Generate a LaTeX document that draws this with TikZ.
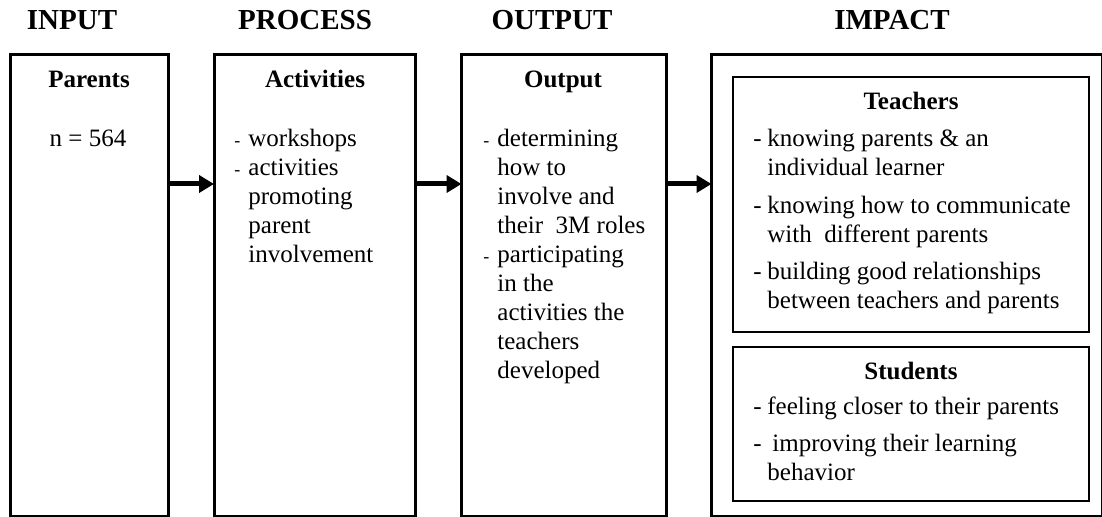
\documentclass[tikz,border=0pt]{standalone}
\usepackage{fontspec}
\setmainfont{Liberation Serif}
\usetikzlibrary{arrows.meta,positioning}
\newcommand{\bul}{\makebox[7pt][l]{-}}
\newcommand{\sbul}{\makebox[7pt][l]{\fontsize{9}{9}\selectfont-}}
\newcommand{\ind}{\hspace*{7pt}}

\begin{document}
\begin{tikzpicture}[x=0.5pt,y=-0.5pt,
    hdr/.style={anchor=base,font=\fontsize{14.5}{17}\selectfont\bfseries},
    stage/.style={draw,line width=1.5pt,minimum height=231pt,inner sep=0pt,outer sep=0pt},
    subbox/.style={draw,line width=0.9pt,minimum width=178pt,inner sep=0pt,outer sep=0pt},
    title/.style={anchor=base,font=\fontsize{12.5}{14.5}\selectfont\bfseries},
    txt/.style={anchor=base west,inner sep=0pt,font=\fontsize{12.5}{14.5}\selectfont},
    flow/.style={line width=2.5pt,-{Triangle[length=7.5pt,width=8.5pt]}}]
\useasboundingbox (0,0) rectangle (1102,517);

% column headings
\foreach \x/\name/\lbl in {72/hinput/INPUT,305/hprocess/PROCESS,552/houtput/OUTPUT,892/himpact/IMPACT}
  \node[hdr] (\name) at (\x,30) {\lbl};

% the four stages
\node[stage,minimum width=78.75pt] (input) at (89.25,286) {};
\node[stage,minimum width=100.5pt] (process) at (314.5,286) {};
\node[stage,minimum width=102.5pt] (output) at (564,286) {};
\node[stage,minimum width=195.25pt] (impact) at (906.75,286) {};

\foreach \a/\b in {input/process,process/output,output/impact}
  \draw[flow] ([yshift=51pt]\a.east) -- ([yshift=51pt]\b.west);

% input
\node[title] (parents) at (89,88) {Parents};
\node[title,font=\fontsize{12.5}{14.5}\selectfont] (nsize) at (88,147) {n = 564};

% process
\node[title] (activities) at (315,88) {Activities};
\node[txt] (actlist) at (234,147) {\begin{tabular}[t]{@{}l@{}}
  \sbul workshops\\
  \sbul activities\\
  \ind promoting\\
  \ind parent\\
  \ind involvement
\end{tabular}};

% output
\node[title] (outtitle) at (563,88) {Output};
\node[txt] (outlist) at (483,147) {\begin{tabular}[t]{@{}l@{}}
  \sbul determining\\
  \ind how to\\
  \ind involve and\\
  \ind their~ 3M roles\\
  \sbul participating\\
  \ind in the\\
  \ind activities the\\
  \ind teachers\\
  \ind developed
\end{tabular}};

% impact
\node[subbox,minimum height=127.5pt] (teachers) at (911,204.5) {};
\node[subbox,minimum height=77pt] (students) at (911,424) {};

\node[title] (teachtitle) at (911,110) {Teachers};
\node[txt] (teachlist) at (753,147) {\begin{tabular}[t]{@{}l@{}}
  \bul knowing parents \& an\\
  \ind individual learner\\[4.25pt]
  \bul knowing how to communicate\\
  \ind with~ different parents\\[4.25pt]
  \bul building good relationships\\
  \ind between teachers and parents
\end{tabular}};

\node[title] (studtitle) at (911,380) {Students};
\node[txt] (studlist) at (753,415) {\begin{tabular}[t]{@{}l@{}}
  \bul feeling closer to their parents\\[4pt]
  \bul\hspace{2.5pt}improving their learning\\
  \ind behavior
\end{tabular}};
\end{tikzpicture}
\end{document}
